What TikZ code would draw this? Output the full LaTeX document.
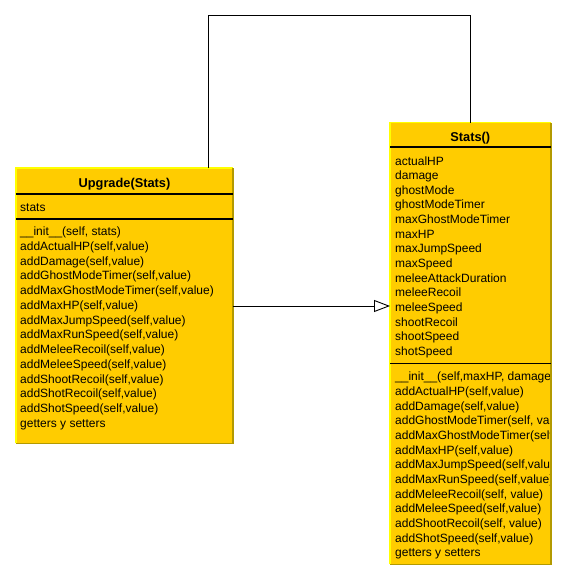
\documentclass[tikz,border=0pt]{standalone}
\usepackage{fontspec}
\setmainfont{Liberation Sans}
\usetikzlibrary{arrows.meta}
\definecolor{classfill}{HTML}{FFCC00}
\definecolor{edgelight}{HTML}{FFFF00}
\definecolor{edgedark}{HTML}{B39A00}
\begin{document}
\begin{tikzpicture}[x=1pt,y=-1pt,
  classbox/.style={fill=classfill,draw=none,inner sep=0pt,anchor=north west},
  member/.style={anchor=base west,inner sep=0pt,font=\fontsize{12}{14}\selectfont},
  classtitle/.style={anchor=base,inner sep=0pt,font=\fontsize{12.8}{14}\selectfont\bfseries},
  divider/.style={line width=1.2pt,black},
  link/.style={line width=0.9pt,black},
]
\useasboundingbox (0,0) rectangle (567,581);

% ---- class Upgrade(Stats) ----
\node[classbox,minimum width=216.5pt,minimum height=275pt] (upgrade) at (16,168) {};
\draw[edgelight,line width=1.2pt] (upgrade.south west) -- (upgrade.north west) -- (upgrade.north east);
\draw[edgedark,line width=1.2pt] (upgrade.north east) -- (upgrade.south east) -- (upgrade.south west);
\node[classtitle] (upgradename) at (124.5,187.5) {Upgrade(Stats)};
\draw[divider] (upgrade.west |- 0,194) -- (upgrade.east |- 0,194);
\node[member] (upgradeattr) at (20,211) {stats};
\draw[divider] (upgrade.west |- 0,219) -- (upgrade.east |- 0,219);
\foreach \t [count=\i from 0] in {{\_\_init\_\_(self, stats)},{addActualHP(self,value)},{addDamage(self,value)},{addGhostModeTimer(self,value)},{addMaxGhostModeTimer(self,value)},{addMaxHP(self,value)},{addMaxJumpSpeed(self,value)},{addMaxRunSpeed(self,value)},{addMeleeRecoil(self,value)},{addMeleeSpeed(self,value)},{addShootRecoil(self,value)},{addShotRecoil(self,value)},{addShotSpeed(self,value)},{getters y setters}}
  \node[member] (um\i) at (20,235.7+14.75*\i) {\t};

% ---- class Stats() ----
\node[classbox,minimum width=160.5pt,minimum height=441.5pt] (stats) at (390,122.5) {};
\draw[edgelight,line width=1.2pt] (stats.south west) -- (stats.north west) -- (stats.north east);
\draw[edgedark,line width=1.2pt] (stats.north east) -- (stats.south east) -- (stats.south west);
\node[classtitle] (statsname) at (470.25,141) {Stats()};
\draw[divider] (stats.west |- 0,147) -- (stats.east |- 0,147);
\foreach \t [count=\i from 0] in {actualHP,damage,ghostMode,ghostModeTimer,maxGhostModeTimer,maxHP,maxJumpSpeed,maxSpeed,meleeAttackDuration,meleeRecoil,meleeSpeed,shootRecoil,shootSpeed,shotSpeed}
  \node[member] (sa\i) at (395,165+14.65*\i) {\t};
\draw[divider] (stats.west |- 0,363.5) -- (stats.east |- 0,363.5);
% long signatures run past the class frame and are cut at its edge
\begin{scope}
  \clip (390,363) rectangle (549.5,564);
  \foreach \t [count=\i from 0] in {{\_\_init\_\_(self,maxHP, damage, ghostModeTimer)},{addActualHP(self,value)},{addDamage(self,value)},{addGhostModeTimer(self, value)},{addMaxGhostModeTimer(self,value)},{addMaxHP(self,value)},{addMaxJumpSpeed(self,value)},{addMaxRunSpeed(self,value)},{addMeleeRecoil(self, value)},{addMeleeSpeed(self,value)},{addShootRecoil(self, value)},{addShotSpeed(self,value)},{getters y setters}}
    \node[member] (sm\i) at (395,380.7+14.67*\i) {\t};
\end{scope}

% ---- connectors ----
\coordinate (bendleft) at (208,15);
\coordinate (bendright) at (470,15);
\draw[link] (bendleft |- upgrade.north) -- (bendleft) -- (bendright) -- (bendright |- stats.north);
\coordinate (genrow) at (0,306);
\draw[link,-{Triangle[open,length=16pt,width=12pt,line width=0.9pt]}] (upgrade.east |- genrow) -- (stats.west |- genrow);
\end{tikzpicture}
\end{document}
